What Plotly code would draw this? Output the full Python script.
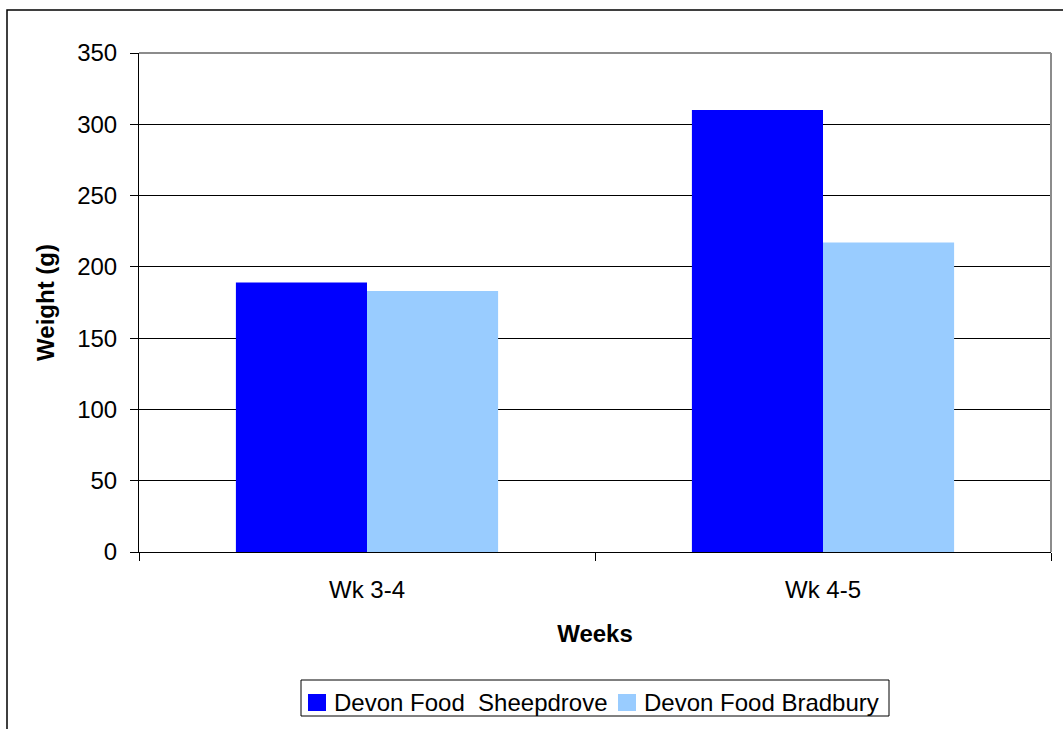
import plotly.graph_objects as go

# Weekly weight gain by feed supplier
weeks = ["Wk 3-4", "Wk 4-5"]
series_names = ["Devon Food  Sheepdrove", "Devon Food Bradbury"]
series_colors = ["#0000FF", "#99CCFF"]
sheepdrove = [189, 310]
bradbury = [183, 217]
y_ticks = [0, 50, 100, 150, 200, 250, 300, 350]

FONT = "Liberation Sans, Arial, sans-serif"
FS = 24

fig = go.Figure()
for name, color, vals in zip(series_names, series_colors, [sheepdrove, bradbury]):
    fig.add_trace(go.Bar(
        x=weeks, y=vals, name=name,
        marker=dict(color=color, line=dict(width=0)),
    ))

L, R, T, B = 139, 12, 53, 177
W, H = 1063, 729
pw = W - L - R
ph = H - T - B


def px_x(p):
    return (p - L) / pw


def px_y(p):
    return (H - B - p) / ph


shapes = [
    # gray plot-area frame (top and right edges)
    dict(type="line", xref="paper", yref="paper", x0=0, x1=1, y0=1, y1=1,
         line=dict(color="#8c8c8c", width=2), layer="above"),
    dict(type="line", xref="paper", yref="paper", x0=1, x1=1, y0=0, y1=1,
         line=dict(color="#8c8c8c", width=2), layer="above"),
    # outer chart frame
    dict(type="rect", xref="paper", yref="paper",
         x0=px_x(7), x1=px_x(W + 20), y0=px_y(H + 20), y1=px_y(10),
         line=dict(color="black", width=1.5), layer="below"),
    # legend box
    dict(type="rect", xref="paper", yref="paper",
         x0=px_x(301), x1=px_x(889), y0=px_y(716), y1=px_y(680),
         line=dict(color="black", width=1), fillcolor="white", layer="above"),
]
annotations = []

# legend entries: colour swatch followed by the series name
legend_x = [308, 618]
for lx, name, color in zip(legend_x, series_names, series_colors):
    shapes.append(dict(
        type="rect", xref="paper", yref="paper",
        x0=px_x(lx), x1=px_x(lx + 18), y0=px_y(711), y1=px_y(694),
        line=dict(width=0), fillcolor=color, layer="above",
    ))
    annotations.append(dict(
        xref="paper", yref="paper", x=px_x(lx + 24), y=px_y(702),
        xanchor="left", yanchor="middle", showarrow=False,
        text=name.replace("  ", " &nbsp;"), font=dict(size=FS, color="black"),
    ))

fig.update_layout(
    width=W, height=H,
    margin=dict(l=L, r=R, t=T, b=B),
    paper_bgcolor="white", plot_bgcolor="white",
    font=dict(family=FONT, size=FS, color="black"),
    barmode="group", bargap=0.425, bargroupgap=0,
    showlegend=False,
    xaxis=dict(
        title=dict(text="<b>Weeks</b>", font=dict(size=FS), standoff=23),
        showline=True, linecolor="black", linewidth=1,
        ticks="outside", ticklen=8, tickcolor="black", tickson="boundaries",
        showgrid=False, zeroline=False,
        ticklabelstandoff=16,
    ),
    yaxis=dict(
        title=dict(text="<b>Weight (g)</b>", font=dict(size=FS), standoff=15),
        range=[0, 350], tickvals=y_ticks,
        showline=True, linecolor="black", linewidth=1,
        ticks="outside", ticklen=8, tickcolor="black",
        showgrid=True, gridcolor="black", gridwidth=1,
        zeroline=False, ticklabelstandoff=8,
    ),
    shapes=shapes,
    annotations=annotations,
)

fig.write_html("out.html")
